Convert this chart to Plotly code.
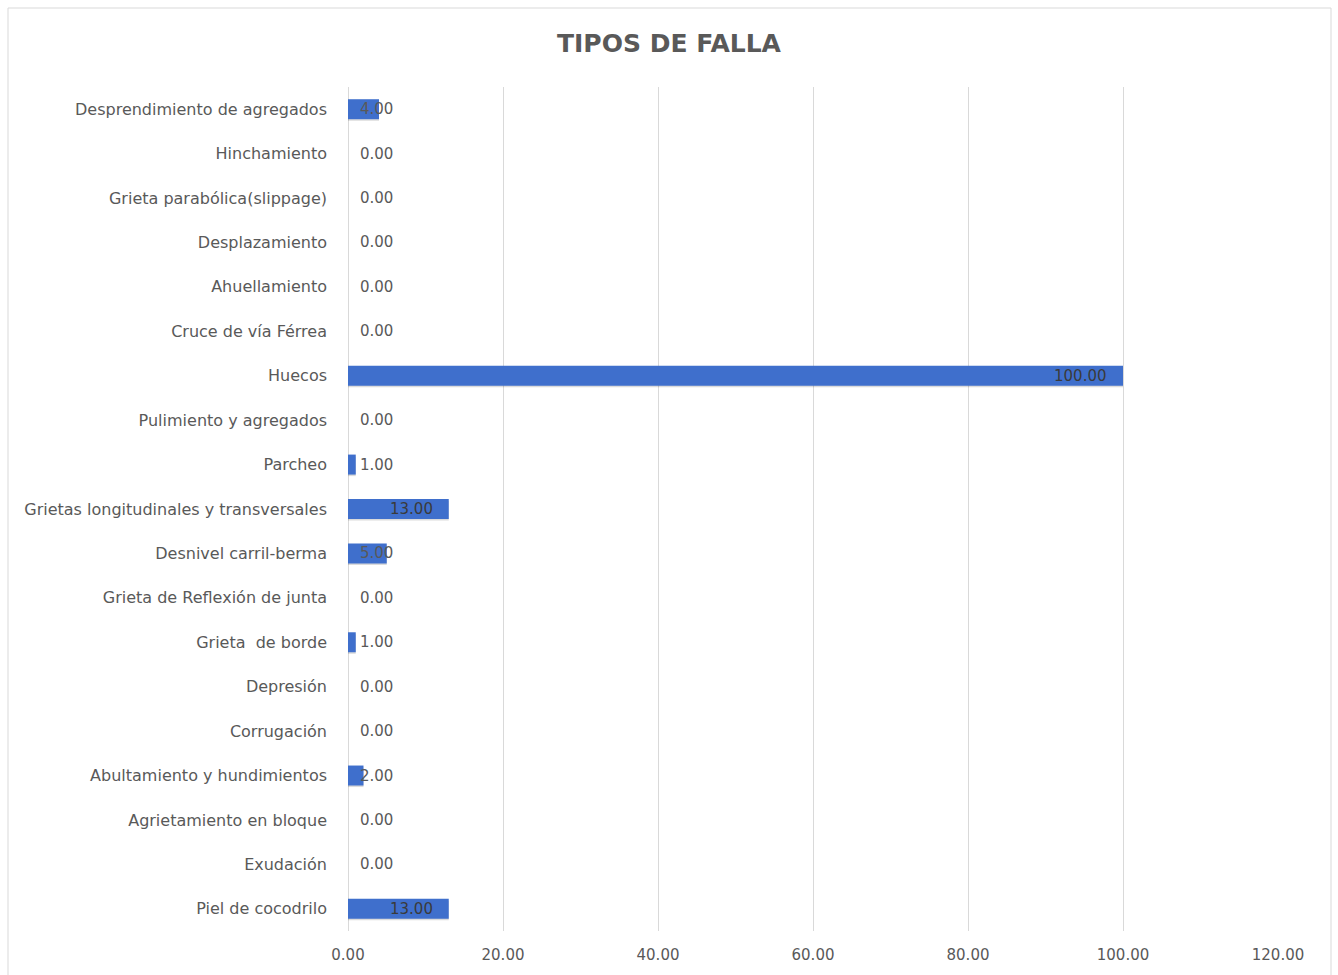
import plotly.graph_objects as go

# Fault types (bottom to top, as listed on the category axis)
categorias = [
    "Piel de cocodrilo",
    "Exudación",
    "Agrietamiento en bloque",
    "Abultamiento y hundimientos",
    "Corrugación",
    "Depresión",
    "Grieta  de borde",
    "Grieta de Reflexión de junta",
    "Desnivel carril-berma",
    "Grietas longitudinales y transversales",
    "Parcheo",
    "Pulimiento y agregados",
    "Huecos",
    "Cruce de vía Férrea",
    "Ahuellamiento",
    "Desplazamiento",
    "Grieta parabólica(slippage)",
    "Hinchamiento",
    "Desprendimiento de agregados",
]
valores = [13, 0, 0, 2, 0, 0, 1, 0, 5, 13, 1, 0, 100, 0, 0, 0, 0, 0, 4]
ticks_x = [0, 20, 40, 60, 80, 100, 120]

W, H = 1338, 975
ML, MR, MT, MB = 348, 60, 87, 44
XMAX = 120
px_per_unit = (W - ML - MR) / XMAX

FONT = "'DejaVu Sans', sans-serif"
GRIS = "#595959"
AZUL = "#3f6fcc"

fig = go.Figure()

# soft drop shadow under each bar
fig.add_trace(go.Bar(
    x=valores, y=categorias, orientation="h",
    marker=dict(color="rgba(0,0,0,0.14)", line=dict(width=0)),
    width=0.44, offset=-0.26, hoverinfo="skip", showlegend=False,
))
fig.add_trace(go.Bar(
    x=valores, y=categorias, orientation="h",
    marker=dict(color=AZUL, line=dict(width=0)),
    width=0.45, offset=-0.225, showlegend=False,
))

# data labels: inside the bar end when they fit, otherwise next to the base
for cat, v in zip(categorias, valores):
    txt = f"{v:.2f}"
    if v * px_per_unit > 70:
        fig.add_annotation(x=v, y=cat, text=txt, showarrow=False,
                           xanchor="right", xshift=-14,
                           font=dict(family=FONT, size=15, color="#3a3a3a"))
    else:
        fig.add_annotation(x=0, y=cat, text=txt, showarrow=False,
                           xanchor="left", xshift=10,
                           font=dict(family=FONT, size=15, color=GRIS))

# chart-area border
fig.add_shape(type="rect", xref="paper", yref="paper",
              x0=(8 - ML) / (W - ML - MR), x1=(1331 - ML) / (W - ML - MR),
              y0=(H - MB - 990) / (H - MT - MB), y1=(H - MB - 8) / (H - MT - MB),
              line=dict(color="#d9d9d9", width=1), layer="below")

fig.update_layout(
    width=W, height=H,
    margin=dict(l=ML, r=MR, t=MT, b=MB),
    paper_bgcolor="white", plot_bgcolor="white",
    barmode="overlay",
    title=dict(text="<b>TIPOS DE FALLA</b>", x=0.5, xref="container", xanchor="center",
               y=1 - 43 / H, yanchor="middle",
               font=dict(family="'DejaVu Sans', sans-serif", size=25, color=GRIS)),
    font=dict(family=FONT, size=15, color=GRIS),
    xaxis=dict(range=[0, XMAX], tickvals=ticks_x,
               ticktext=[f"{t:.2f}" for t in ticks_x],
               showgrid=True, gridcolor="#d9d9d9", gridwidth=1,
               zeroline=True, zerolinecolor="#d9d9d9", zerolinewidth=1,
               showline=False, ticks="", ticklabelstandoff=13,
               tickfont=dict(family=FONT, size=15, color=GRIS),
               fixedrange=True),
    yaxis=dict(categoryorder="array", categoryarray=categorias,
               range=[-0.5, len(categorias) - 0.5],
               showgrid=False, zeroline=False, showline=False, ticks="",
               ticklabelstandoff=20,
               tickfont=dict(family=FONT, size=16, color=GRIS),
               fixedrange=True),
)

fig.write_html("out.html")
